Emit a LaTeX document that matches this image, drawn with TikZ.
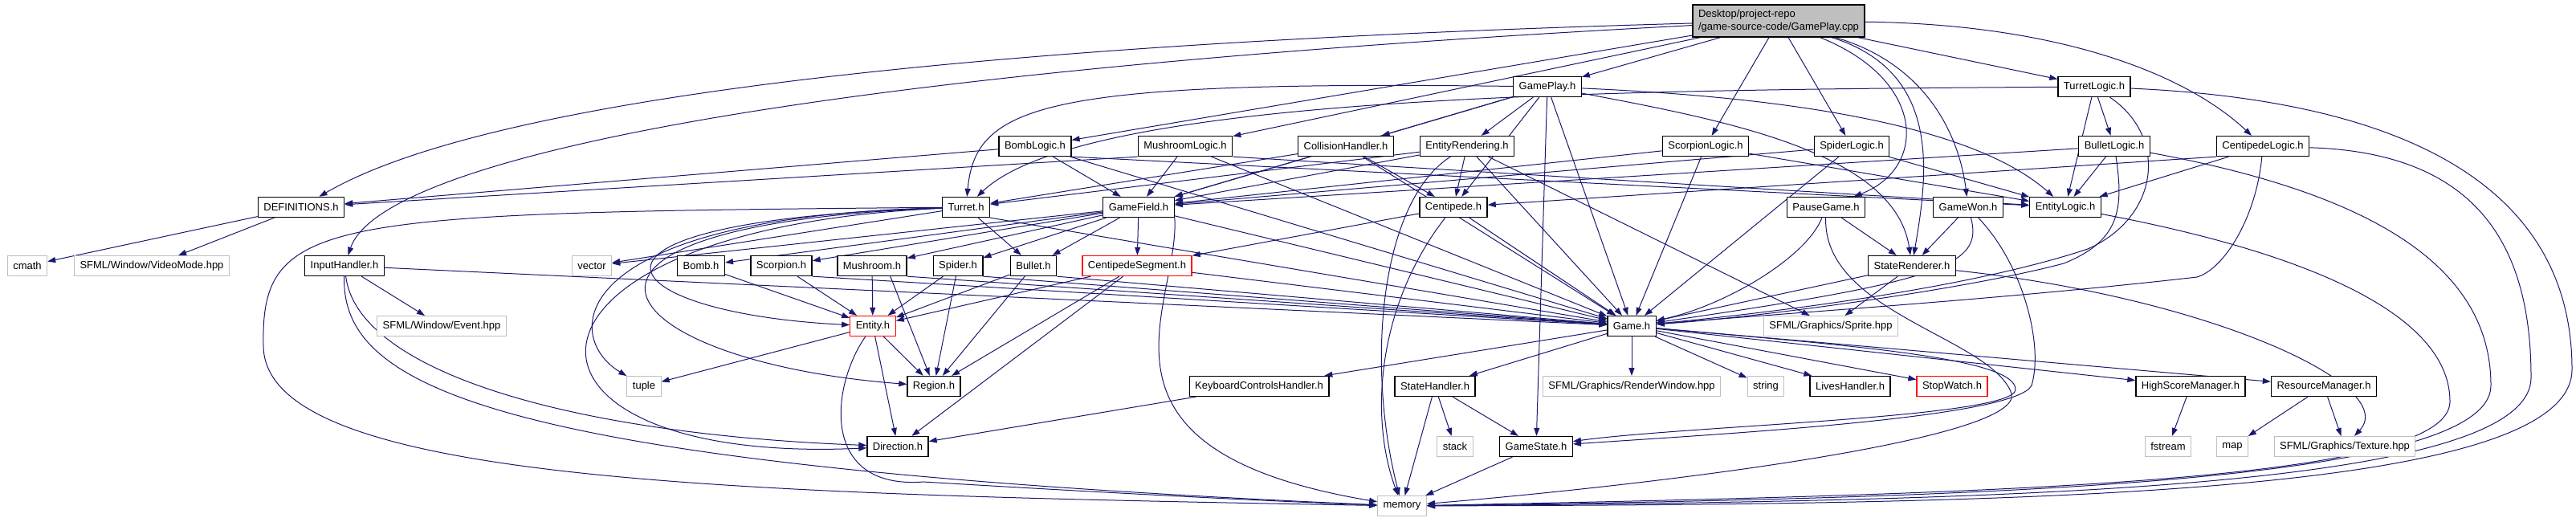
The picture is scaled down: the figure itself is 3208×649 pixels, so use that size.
\documentclass[tikz,border=0pt]{standalone}
\usepackage{fontspec}
\setmainfont{Liberation Sans}
\usetikzlibrary{arrows.meta,backgrounds}
\definecolor{edgeblue}{HTML}{191970}
\definecolor{sysgrey}{HTML}{BFBFBF}
\definecolor{truncred}{HTML}{FF0000}
\definecolor{rootfill}{HTML}{BFBFBF}

\begin{document}
\begin{tikzpicture}[x=1pt,y=-1pt,
 hdr/.style={draw=black,fill=white,line width=1.3pt,minimum height=25pt,inner xsep=7pt,inner ysep=2pt,font=\fontsize{13}{16}\selectfont},
 sys/.style={hdr,draw=sysgrey,line width=1pt},
 trunc/.style={hdr,draw=truncred},
 dep/.style={draw=edgeblue,line width=1pt,-{Triangle[length=10pt,width=7pt]}}]
\useasboundingbox (0,0) rectangle (3208,649);
% top rows
\node[hdr,fill=rootfill,align=left,minimum height=40pt] (root) at (2215,26) {Desktop/project-repo\\/game-source-code/GamePlay.cpp};
\node[hdr] (gameplayh) at (1927,108) {GamePlay.h};
\node[hdr] (turretlogic) at (2608,108) {TurretLogic.h};
\node[hdr] (bomblogic) at (1289,182) {BombLogic.h};
\node[hdr] (mushroomlogic) at (1476,182) {MushroomLogic.h};
\node[hdr] (collisionh) at (1676,182) {CollisionHandler.h};
\node[hdr] (entityrend) at (1827,182) {EntityRendering.h};
\node[hdr] (scorpionlogic) at (2124,182) {ScorpionLogic.h};
\node[hdr] (spiderlogic) at (2306,182) {SpiderLogic.h};
\node[hdr] (bulletlogic) at (2633,182) {BulletLogic.h};
\node[hdr] (centlogic) at (2818,182) {CentipedeLogic.h};
% middle rows
\node[hdr] (definitions) at (375,258) {DEFINITIONS.h};
\node[hdr] (turreth) at (1203,258) {Turret.h};
\node[hdr] (gamefield) at (1418,258) {GameField.h};
\node[hdr] (centipedeh) at (1810,258) {Centipede.h};
\node[hdr] (pausegame) at (2274,258) {PauseGame.h};
\node[hdr] (gamewon) at (2451,258) {GameWon.h};
\node[hdr] (entitylogic) at (2572,258) {EntityLogic.h};
\node[sys] (cmath) at (34,331) {cmath};
\node[sys] (videomode) at (189,331) {SFML/Window/VideoMode.hpp};
\node[hdr] (inputh) at (429,331) {InputHandler.h};
\node[sys] (vectorh) at (737,331) {vector};
\node[hdr] (bombh) at (873,331) {Bomb.h};
\node[hdr] (scorpionh) at (973,331) {Scorpion.h};
\node[hdr] (mushroomh) at (1086,331) {Mushroom.h};
\node[hdr] (spiderh) at (1193,331) {Spider.h};
\node[hdr] (bulleth) at (1287,331) {Bullet.h};
\node[trunc] (centseg) at (1416,331) {CentipedeSegment.h};
\node[hdr] (staterend) at (2381,331) {StateRenderer.h};
\node[sys] (eventhpp) at (550,406) {SFML/Window/Event.hpp};
\node[trunc] (entityh) at (1087,406) {Entity.h};
\node[hdr] (gameh) at (2032,406) {Game.h};
\node[sys] (spritehpp) at (2280,406) {SFML/Graphics/Sprite.hpp};
% bottom rows
\node[sys] (tupleh) at (802,481) {tuple};
\node[hdr] (regionh) at (1163,481) {Region.h};
\node[hdr] (keyboardh) at (1568,481) {KeyboardControlsHandler.h};
\node[hdr] (statehandler) at (1787,481) {StateHandler.h};
\node[sys] (renderwin) at (2032,481) {SFML/Graphics/RenderWindow.hpp};
\node[sys] (stringh) at (2199,481) {string};
\node[hdr] (livesh) at (2304,481) {LivesHandler.h};
\node[trunc] (stopwatch) at (2431,481) {StopWatch.h};
\node[hdr] (highscore) at (2728,481) {HighScoreManager.h};
\node[hdr] (resourceh) at (2894,481) {ResourceManager.h};
\node[hdr] (directionh) at (1118,556) {Direction.h};
\node[sys] (stackh) at (1812,556) {stack};
\node[hdr] (gamestate) at (1913,556) {GameState.h};
\node[sys] (fstreamh) at (2700,556) {fstream};
\node[sys] (maph) at (2780,556) {map};
\node[sys] (texturehpp) at (2920,556) {SFML/Graphics/Texture.hpp};
\node[sys] (memoryh) at (1746,630) {memory};

\begin{pgfonlayer}{background}
% GamePlay.cpp
\draw[dep] (root) .. controls (1000,60) and (560,150) .. (definitions);
\draw[dep] (root) .. controls (900,95) and (470,210) .. (inputh);
\draw[dep] (root) -- (bomblogic);
\draw[dep] (root) -- (mushroomlogic);
\draw[dep] (root) -- (gameplayh);
\draw[dep] (root) -- (scorpionlogic);
\draw[dep] (root) -- (spiderlogic);
\draw[dep] (root) .. controls (2400,100) and (2400,210) .. (pausegame);
\draw[dep] (root) .. controls (2420,90) and (2400,220) .. (staterend);
\draw[dep] (root) .. controls (2400,80) and (2440,170) .. (gamewon);
\draw[dep] (root) -- (turretlogic);
\draw[dep] (root) .. controls (2560,30) and (2720,90) .. (centlogic);
% GamePlay.h
\draw[dep] (gameplayh) .. controls (1300,100) and (1215,130) .. (turreth);
\draw[dep] (gameplayh) -- (gamefield);
\draw[dep] (gameplayh) -- (collisionh);
\draw[dep] (gameplayh) -- (entityrend);
\draw[dep] (gameplayh) -- (centipedeh);
\draw[dep] (gameplayh) -- (gameh);
\draw[dep] (gameplayh) -- (gamestate);
\draw[dep] (gameplayh) .. controls (2200,120) and (2450,150) .. (entitylogic);
\draw[dep] (gameplayh) .. controls (2150,150) and (2360,190) .. (staterend);
% logic headers
\draw[dep] (bomblogic) -- (definitions);
\draw[dep] (bomblogic) -- (gamefield);
\draw[dep] (bomblogic.south east) -- (entitylogic);
\draw[dep] (bomblogic) -- (gameh);
\draw[dep] (mushroomlogic.south west) -- (definitions);
\draw[dep] (mushroomlogic) -- (gamefield);
\draw[dep] (mushroomlogic.south east) -- (entitylogic);
\draw[dep] (mushroomlogic) -- (gameh);
\draw[dep] (collisionh) -- (turreth);
\draw[dep] (collisionh) -- (gamefield);
\draw[dep] (collisionh) -- (centipedeh);
\draw[dep] (collisionh) -- (gameh);
\draw[dep] (entityrend) -- (turreth);
\draw[dep] (entityrend) -- (gamefield);
\draw[dep] (entityrend) -- (centipedeh);
\draw[dep] (entityrend) -- (gameh);
\draw[dep] (entityrend) -- (spritehpp);
\draw[dep] (entityrend) .. controls (1720,250) and (1700,450) .. (memoryh);
\draw[dep] (scorpionlogic) -- (gamefield);
\draw[dep] (scorpionlogic) -- (entitylogic);
\draw[dep] (scorpionlogic) -- (gameh);
\draw[dep] (spiderlogic) -- (gamefield);
\draw[dep] (spiderlogic) -- (entitylogic);
\draw[dep] (spiderlogic) -- (gameh);
\draw[dep] (turretlogic) .. controls (2000,112) and (1350,118) .. (turreth);
\draw[dep] (turretlogic) -- (bulletlogic);
\draw[dep] (turretlogic) -- (entitylogic);
\draw[dep] (turretlogic) .. controls (2700,170) and (2690,270) .. (2600,310) .. controls (2450,360) and (2200,390) .. (gameh);
\draw[dep] (turretlogic) .. controls (3100,130) and (3203,300) .. (3203,460) .. controls (3203,620) and (2500,628) .. (memoryh);
\draw[dep] (bulletlogic) -- (gamefield);
\draw[dep] (bulletlogic) -- (entitylogic);
\draw[dep] (bulletlogic) .. controls (2645,260) and (2640,300) .. (2570,328) .. controls (2450,360) and (2200,394) .. (gameh);
\draw[dep] (bulletlogic) .. controls (2950,240) and (3102,330) .. (3102,480) .. controls (3102,600) and (2500,620) .. (memoryh);
\draw[dep] (centlogic.south west) -- (centipedeh);
\draw[dep] (centlogic) -- (entitylogic);
\draw[dep] (centlogic) .. controls (2810,270) and (2770,335) .. (2736,345) .. controls (2500,372) and (2250,388) .. (gameh);
\draw[dep] (centlogic) .. controls (3080,190) and (3152,300) .. (3152,470) .. controls (3152,610) and (2500,624) .. (memoryh);
\draw[dep] (entitylogic) .. controls (2900,320) and (3051,400) .. (3051,500) .. controls (3051,600) and (2500,615) .. (memoryh);
% game states
\draw[dep] (pausegame) -- (staterend);
\draw[dep] (pausegame) .. controls (2250,320) and (2150,380) .. (gameh);
\draw[dep] (pausegame) .. controls (2270,390) and (2480,420) .. (2505,490) .. controls (2520,545) and (2100,600) .. (memoryh);
\draw[dep] (gamewon) -- (staterend);
\draw[dep] (gamewon) .. controls (2470,330) and (2420,350) .. (gameh);
\draw[dep] (gamewon) .. controls (2520,330) and (2545,430) .. (2530,480) .. controls (2510,520) and (2150,540) .. (gamestate);
\draw[dep] (staterend) -- (gameh);
\draw[dep] (staterend) -- (spritehpp);
\draw[dep] (staterend) .. controls (2750,370) and (2990,480) .. (texturehpp);
% Turret.h and GameField.h
\draw[dep] (turreth) -- (vectorh);
\draw[dep] (turreth) -- (bulleth);
\draw[dep] (turreth.south east) -- (gameh);
\draw[dep] (turreth) .. controls (700,270) and (700,420) .. (tupleh);
\draw[dep] (turreth) .. controls (660,275) and (760,390) .. (entityh);
\draw[dep] (turreth) .. controls (620,280) and (760,450) .. (regionh);
\draw[dep] (turreth) .. controls (600,285) and (600,580) .. (directionh);
\draw[dep] (turreth) .. controls (400,265) and (325,270) .. (328,430) .. controls (328,600) and (900,615) .. (memoryh);
\draw[dep] (gamefield) -- (vectorh);
\draw[dep] (gamefield) -- (bombh);
\draw[dep] (gamefield) -- (scorpionh);
\draw[dep] (gamefield) -- (mushroomh);
\draw[dep] (gamefield) -- (spiderh);
\draw[dep] (gamefield) -- (bulleth);
\draw[dep] (gamefield) -- (centseg);
\draw[dep] (gamefield) -- (gameh);
\draw[dep] (gamefield.south east) .. controls (1470,380) and (1330,560) .. (memoryh);
\draw[dep] (centipedeh) -- (centseg);
\draw[dep] (centipedeh) -- (gameh);
\draw[dep] (centipedeh) .. controls (1715,380) and (1705,520) .. (memoryh);
% entities
\draw[dep] (bombh) -- (entityh);
\draw[dep] (scorpionh) -- (entityh);
\draw[dep] (scorpionh.south east) -- (gameh);
\draw[dep] (mushroomh) -- (entityh);
\draw[dep] (mushroomh.-30) -- (regionh);
\draw[dep] (mushroomh.south east) -- (gameh);
\draw[dep] (spiderh) -- (entityh);
\draw[dep] (spiderh) -- (regionh);
\draw[dep] (spiderh.south east) -- (gameh);
\draw[dep] (bulleth) -- (entityh);
\draw[dep] (bulleth) -- (regionh);
\draw[dep] (bulleth.south east) -- (gameh);
\draw[dep] (centseg) -- (entityh);
\draw[dep] (centseg) -- (regionh);
\draw[dep] (centseg) -- (directionh);
\draw[dep] (centseg) -- (gameh);
\draw[dep] (entityh) -- (tupleh);
\draw[dep] (entityh) -- (regionh);
\draw[dep] (entityh) -- (directionh);
\draw[dep] (entityh) .. controls (1035,480) and (1020,610) .. (1150,600) .. controls (1400,615) and (1600,625) .. (memoryh);
% input and definitions
\draw[dep] (inputh) -- (eventhpp);
\draw[dep] (inputh) -- (gameh);
\draw[dep] (inputh) .. controls (445,460) and (700,540) .. (directionh);
\draw[dep] (inputh) .. controls (425,480) and (600,580) .. (memoryh);
\draw[dep] (definitions) -- (cmath);
\draw[dep] (definitions) -- (videomode);
% Game.h
\draw[dep] (gameh) -- (keyboardh);
\draw[dep] (gameh) -- (statehandler);
\draw[dep] (gameh) -- (renderwin);
\draw[dep] (gameh) -- (stringh);
\draw[dep] (gameh) -- (livesh);
\draw[dep] (gameh) -- (stopwatch);
\draw[dep] (gameh) -- (highscore);
\draw[dep] (gameh) -- (resourceh);
\draw[dep] (gameh) .. controls (2300,430) and (2510,445) .. (2510,485) .. controls (2510,520) and (2100,530) .. (gamestate);
\draw[dep] (keyboardh) -- (directionh);
\draw[dep] (statehandler) -- (stackh);
\draw[dep] (statehandler) -- (gamestate);
\draw[dep] (statehandler) -- (memoryh);
\draw[dep] (gamestate) -- (memoryh);
\draw[dep] (highscore) -- (fstreamh);
\draw[dep] (resourceh) -- (maph);
\draw[dep] (resourceh) -- (texturehpp);
\end{pgfonlayer}
\end{tikzpicture}
\end{document}
